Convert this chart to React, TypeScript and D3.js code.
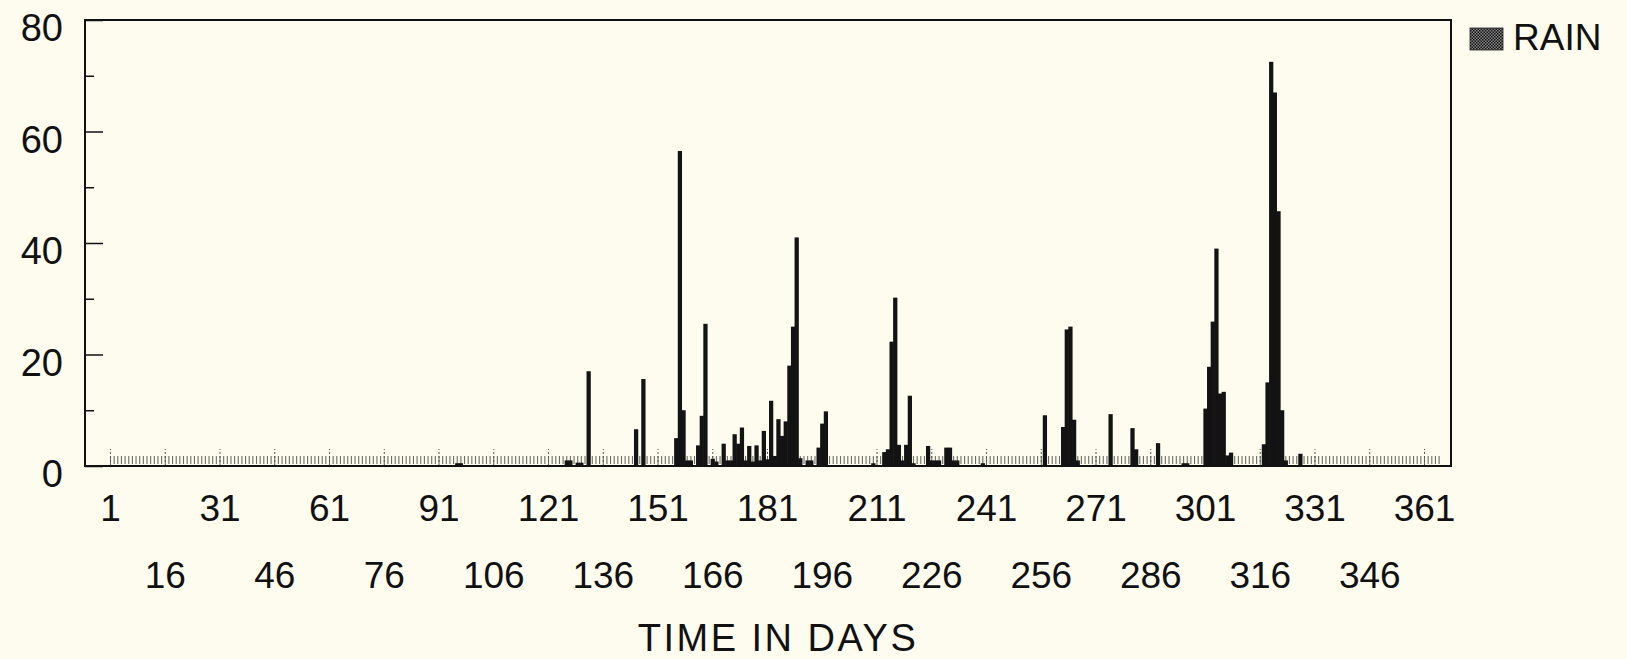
import * as d3 from "d3";
import { useEffect, useRef } from "react";

// daily rain, only the days with a visible bar (all others ~0)
const rainDays = [
  96, 97, 126, 127, 129, 130, 132, 145, 147, 156, 157, 158, 159, 160, 162, 163, 164,
  166, 167, 169, 170, 171, 172, 173, 174, 175, 176, 177, 178, 179, 180, 181, 182, 183,
  184, 185, 186, 187, 188, 189, 190, 192, 193, 195, 196, 197, 210, 213, 214, 215, 216,
  217, 218, 219, 220, 221, 225, 226, 227, 228, 230, 231, 232, 233, 240, 257, 262, 263,
  264, 265, 266, 275, 281, 282, 288, 295, 296, 301, 302, 303, 304, 305, 306, 307, 308,
  317, 318, 319, 320, 321, 322, 323, 327,
];
const rainValues = [
  0.5, 0.5, 1, 1, 0.6, 0.6, 17, 6.6, 15.6, 5, 56.5, 10, 1, 1, 3.7, 9, 25.5,
  1.3, 0.8, 4, 1, 1, 5.7, 4, 6.9, 1, 3.6, 0.8, 3.7, 1, 6.3, 1.2, 11.7, 1.8,
  8.4, 5.4, 8, 18, 25, 41, 1.4, 1, 1, 3.3, 7.6, 9.8, 0.5, 2.5, 3, 22.3, 30.2,
  3.8, 1, 3.8, 12.6, 0.5, 3.6, 1, 1, 1, 3.3, 3.3, 1, 1, 0.5, 9.1, 7, 24.5,
  25, 8.3, 1, 9.3, 6.8, 3, 4.1, 0.5, 0.5, 10.3, 17.8, 25.9, 39, 13, 13.3, 1.9, 2.4,
  3.9, 15, 72.5, 67, 45.7, 10, 1, 2.2,
];

const yTicks = [0, 20, 40, 60, 80];
const yMinorTicks = [10, 30, 50, 70];
const dayTicks = [1, 16, 31, 46, 61, 76, 91, 106, 121, 136, 151, 166, 181, 196, 211, 226, 241, 256, 271, 286, 301, 316, 331, 346, 361];
const seriesName = "RAIN";
const xTitle = "TIME IN DAYS";

const App = () => {
  const ref = useRef<SVGSVGElement>(null);

  useEffect(() => {
    const svg = d3.select(ref.current);
    svg.selectAll("*").remove();

    const width = 1627;
    const height = 659;
    const left = 85;
    const right = 1451;
    const top = 20;
    const bottom = 466;
    const font = "'Liberation Sans', Arial, sans-serif";
    const ink = "#111";

    svg.append("rect").attr("width", width).attr("height", height).attr("fill", "#fdfcef");

    // шкалы
    const allDays = d3.range(1, 366);
    const step = 3.65;
    const first = 110.5;
    const x = d3
      .scaleBand<number>()
      .domain(allDays)
      .range([first - step / 2, first - step / 2 + 365 * step])
      .padding(0);

    const y = d3.scaleLinear().domain([0, 80]).range([bottom, top]);

    // pattern for the legend swatch
    const pat = svg
      .append("defs")
      .append("pattern")
      .attr("id", "rainPat")
      .attr("width", 3)
      .attr("height", 3)
      .attr("patternUnits", "userSpaceOnUse");
    pat.append("rect").attr("width", 3).attr("height", 3).attr("fill", "#888");
    pat.append("rect").attr("width", 1.5).attr("height", 1.5).attr("fill", "#111");
    pat.append("rect").attr("x", 1.5).attr("y", 1.5).attr("width", 1.5).attr("height", 1.5).attr("fill", "#111");

    // daily minor ticks along the bottom
    const dailyAxis = svg
      .append("g")
      .attr("transform", `translate(0,${bottom - 2})`)
      .call(d3.axisBottom(x).tickValues(allDays).tickSize(-8).tickFormat(() => ""));
    dailyAxis.select(".domain").remove();
    dailyAxis.selectAll("line").attr("stroke", "#6e6e66").attr("stroke-width", 1.1);

    // major x ticks + two rows of labels
    const xAxis = svg
      .append("g")
      .attr("transform", `translate(0,${bottom})`)
      .call(d3.axisBottom(x).tickValues(dayTicks).tickSize(-17).tickFormat((d) => String(d)));
    xAxis.select(".domain").remove();
    xAxis.selectAll("line").attr("stroke", "#555").attr("stroke-width", 1).attr("stroke-dasharray", "2,2");
    xAxis
      .selectAll("text")
      .attr("y", (_d, i) => (i % 2 === 0 ? 29 : 96))
      .attr("fill", ink)
      .style("font-family", font)
      .style("font-size", "37px");

    // Ось Y
    const yAxis = svg
      .append("g")
      .attr("transform", `translate(${left},0)`)
      .call(d3.axisLeft(y).tickValues(yTicks).tickSize(-18).tickPadding(22));
    yAxis.select(".domain").remove();
    yAxis.selectAll("line").attr("stroke", ink).attr("stroke-width", 1.5);
    yAxis
      .selectAll("text")
      .attr("dy", "0.55em")
      .attr("fill", ink)
      .style("font-family", font)
      .style("font-size", "38px");

    const yMinor = svg
      .append("g")
      .attr("transform", `translate(${left},0)`)
      .call(d3.axisLeft(y).tickValues(yMinorTicks).tickSize(-9).tickFormat(() => ""));
    yMinor.select(".domain").remove();
    yMinor.selectAll("line").attr("stroke", ink).attr("stroke-width", 1.5);

    // bars
    const data = rainDays.map((d, i) => ({ day: d, value: rainValues[i] }));
    const extra = 0.6;
    svg
      .append("g")
      .selectAll("rect")
      .data(data)
      .enter()
      .append("rect")
      .attr("x", (d) => x(d.day)! - extra / 2)
      .attr("y", (d) => y(d.value))
      .attr("width", x.bandwidth() + extra)
      .attr("height", (d) => bottom - y(d.value))
      .attr("fill", "#131313");

    // frame
    svg
      .append("rect")
      .attr("x", left)
      .attr("y", top)
      .attr("width", right - left)
      .attr("height", bottom - top)
      .attr("fill", "none")
      .attr("stroke", ink)
      .attr("stroke-width", 2);

    // legend
    svg
      .append("rect")
      .attr("x", 1470)
      .attr("y", 28)
      .attr("width", 33)
      .attr("height", 22)
      .attr("fill", "url(#rainPat)")
      .attr("stroke", "#222")
      .attr("stroke-width", 0.8);
    svg
      .append("text")
      .attr("x", 1513)
      .attr("y", 50)
      .attr("fill", ink)
      .style("font-family", font)
      .style("font-size", "37px")
      .text(seriesName);

    // x title
    svg
      .append("text")
      .attr("x", 778)
      .attr("y", 651)
      .attr("text-anchor", "middle")
      .attr("fill", ink)
      .style("font-family", font)
      .style("font-size", "38px")
      .style("letter-spacing", "2.5px")
      .text(xTitle);
  }, []);

  return (
    <svg
      ref={ref}
      width={1627}
      height={659}
      style={{ position: "absolute", left: 0, top: 0, display: "block" }}
    ></svg>
  );
};

export default App;
